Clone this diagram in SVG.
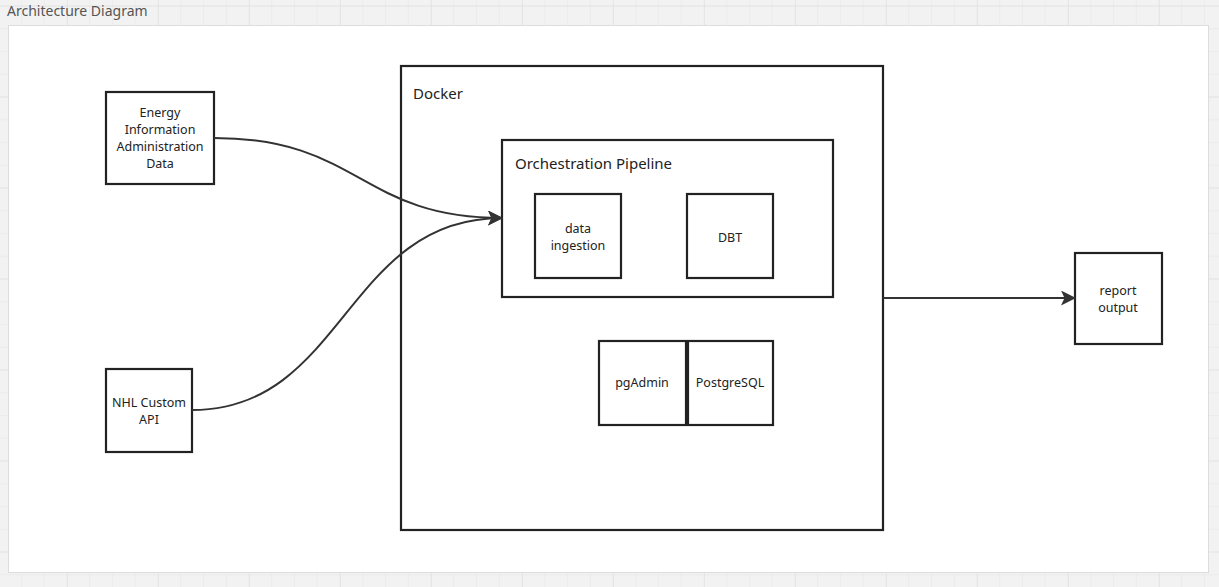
<svg xmlns="http://www.w3.org/2000/svg" width="1219" height="587" viewBox="0 0 1219 587">
<defs>
<pattern id="minor" width="22.75" height="22.75" patternUnits="userSpaceOnUse" x="-0.75" y="6.5">
<path d="M22.75 0V22.75H0" fill="none" stroke="#e6e6e6" stroke-width="1"/>
</pattern>
<pattern id="major" width="91" height="91" patternUnits="userSpaceOnUse" x="-23" y="6.5">
<path d="M91 0V91H0" fill="none" stroke="#dcdcdc" stroke-width="1"/>
</pattern>
<marker id="arrow" viewBox="0 0 15 15" refX="14" refY="7.5" markerWidth="15" markerHeight="15" markerUnits="userSpaceOnUse" orient="auto">
<path d="M0 0L15 7.5L0 15L3.5 7.5Z" fill="#333"/>
</marker>
<style>
.box{fill:#fff;stroke:#222;stroke-width:2.2}
.frame{fill:none;stroke:#222;stroke-width:2.2}
.t{font-family:"Noto Sans","Open Sans","DejaVu Sans",sans-serif;font-size:12.5px;fill:#222;text-anchor:middle}
.big{font-family:"Noto Sans","Open Sans","DejaVu Sans",sans-serif;font-size:15px;fill:#222}
.conn{fill:none;stroke:#333;stroke-width:2}
</style>
</defs>
<rect width="1219" height="587" fill="#f2f2f2"/>
<rect width="1219" height="587" fill="url(#minor)"/>
<rect width="1219" height="587" fill="url(#major)"/>
<text x="7" y="16" font-family="'Noto Sans','Open Sans',sans-serif" font-size="14" fill="#555">Architecture Diagram</text>
<rect x="8.5" y="25.5" width="1200" height="547" fill="#fff" stroke="#dddddd" stroke-width="1"/>

<g id="docker">
<rect class="frame" x="401" y="66" width="482" height="464"/>
<text class="big" x="413" y="99">Docker</text>
</g>
<g id="orchestration">
<rect class="frame" x="502" y="140" width="331" height="157"/>
<text class="big" x="515" y="169">Orchestration Pipeline</text>
</g>
<g id="eia">
<rect class="box" x="106" y="92" width="108" height="92"/>
<text class="t" x="160" y="117">Energy</text>
<text class="t" x="160" y="134">Information</text>
<text class="t" x="160" y="151">Administration</text>
<text class="t" x="160" y="168">Data</text>
</g>
<g id="nhl">
<rect class="box" x="106" y="369" width="86" height="83"/>
<text class="t" x="149" y="407">NHL Custom</text>
<text class="t" x="149" y="424">API</text>
</g>
<g id="ingestion">
<rect class="box" x="535" y="194" width="86" height="84"/>
<text class="t" x="578" y="233">data</text>
<text class="t" x="578" y="250">ingestion</text>
</g>
<g id="dbt">
<rect class="box" x="687" y="194" width="86" height="84"/>
<text class="t" x="730" y="242">DBT</text>
</g>
<g id="pgadmin">
<rect class="box" x="599" y="341" width="87" height="84"/>
<text class="t" x="642" y="387">pgAdmin</text>
</g>
<g id="postgres">
<rect class="box" x="688" y="341" width="85" height="84"/>
<text class="t" x="730" y="387">PostgreSQL</text>
</g>
<g id="report">
<rect class="box" x="1075" y="253" width="87" height="91"/>
<text class="t" x="1118" y="295">report</text>
<text class="t" x="1118" y="312">output</text>
</g>

<g id="connectors">
<path class="conn" d="M214 138C360 138 360 218 502 218" marker-end="url(#arrow)"/>
<path class="conn" d="M192 410C345 410 345 218 502 218" marker-end="url(#arrow)"/>
<path class="conn" d="M883 298H1075" marker-end="url(#arrow)"/>
</g>
</svg>
